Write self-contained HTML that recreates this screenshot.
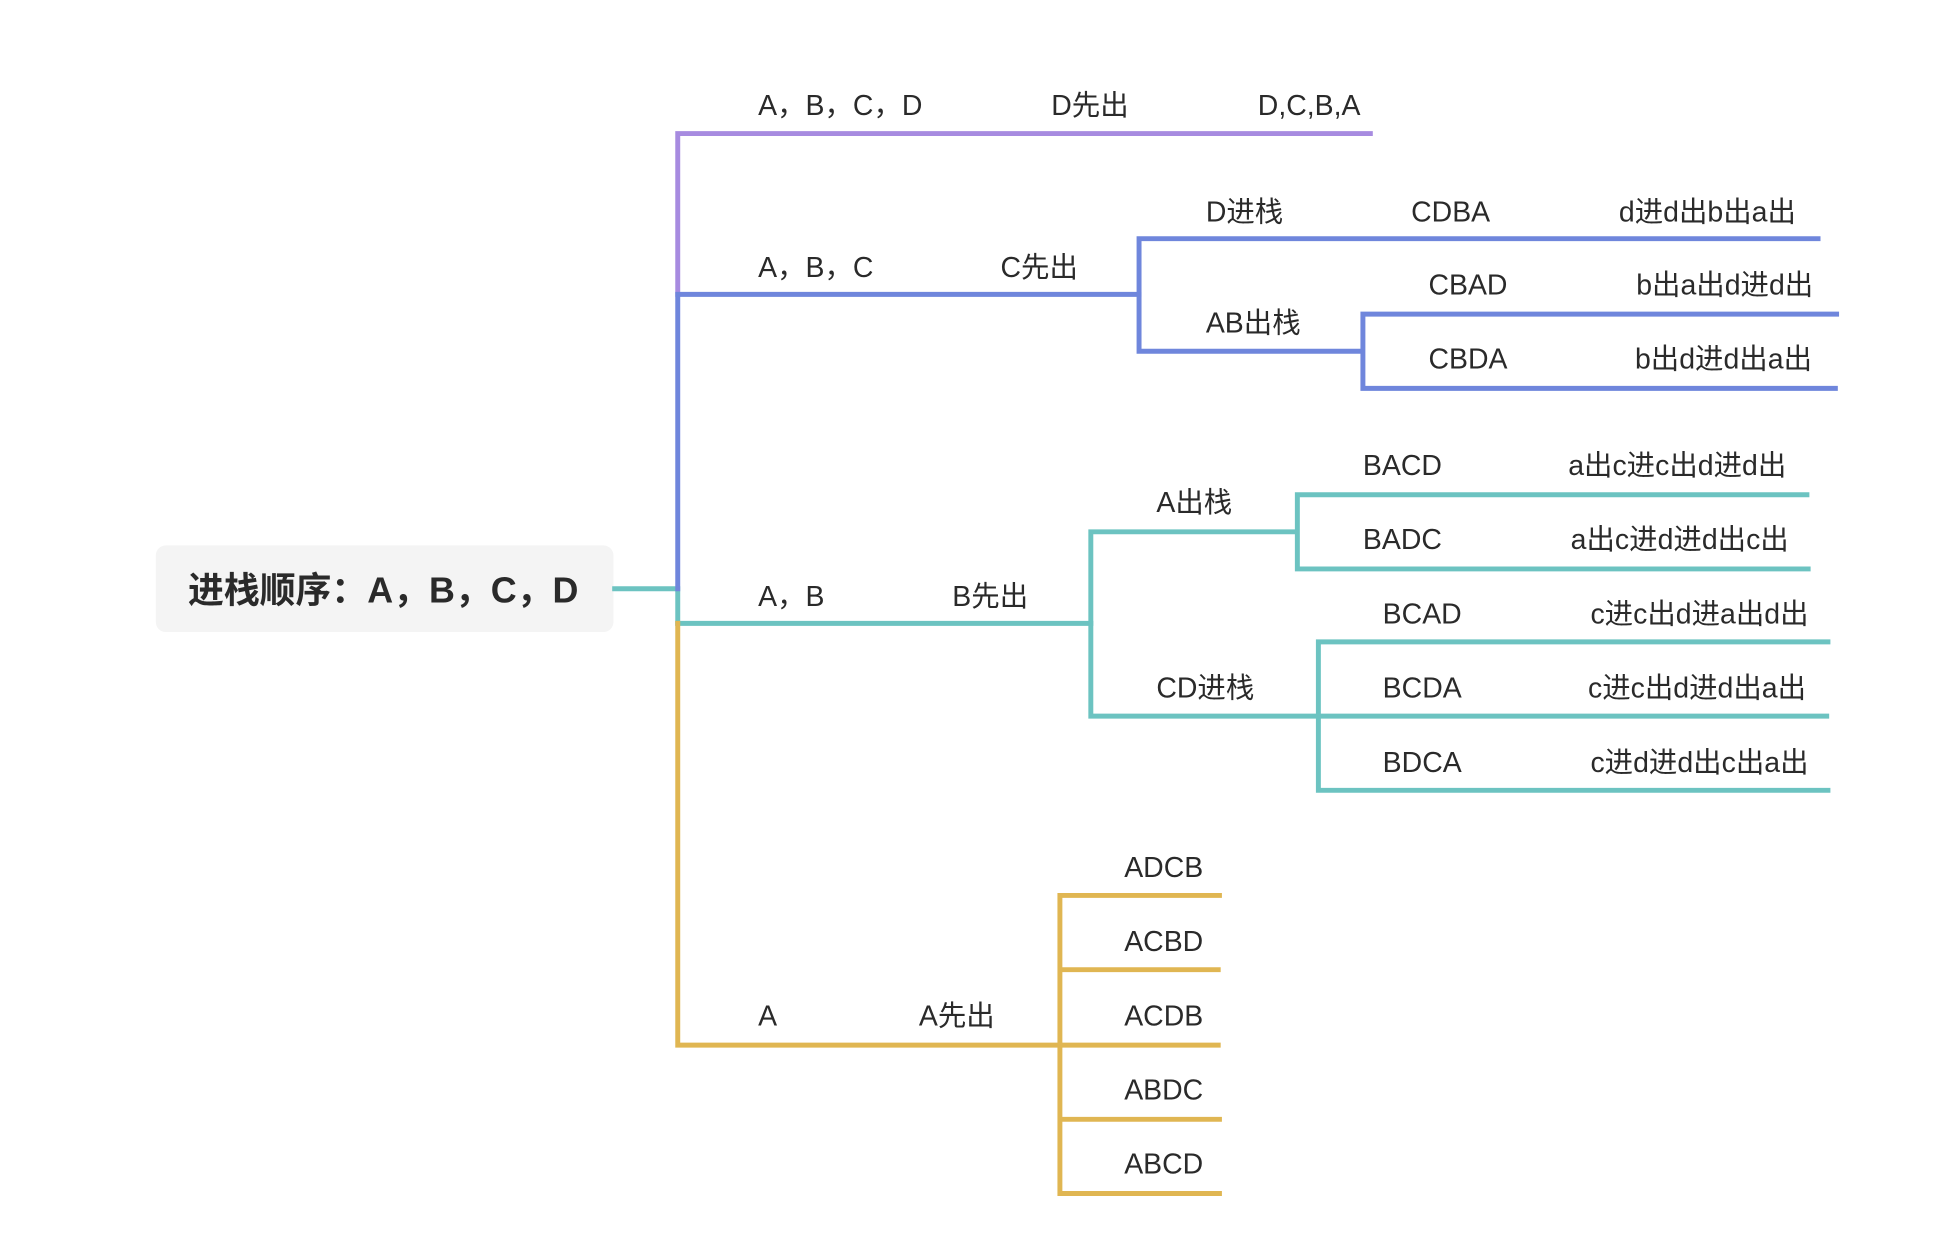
<!DOCTYPE html>
<html><head><meta charset="utf-8"><style>
html,body{margin:0;padding:0;background:#fff;}
svg{display:block}
text{font-family:"Liberation Sans","Noto Sans CJK SC",sans-serif;font-size:23px;fill:#2a2a2a;}
</style></head><body>
<svg width="1938" height="1243" viewBox="0 0 1567 1005" preserveAspectRatio="none" xmlns="http://www.w3.org/2000/svg">
<rect x="126" y="441" width="370" height="70" rx="8" fill="#f4f4f4"/>
<text x="152" y="487" style="font-size:29px;font-weight:bold">进栈顺序：A，B，C，D</text>
<g fill="none" stroke-width="4" stroke-linecap="square">
<path d="M497 476 H548 V504" stroke="#6cc3c1"/>
<path d="M548 238 V108 H1108" stroke="#a78be0"/>
<path d="M548 476 V238 H921" stroke="#6f86dc"/>
<path d="M548 504 H882" stroke="#6cc3c1"/>
<path d="M548 504 V845 H857" stroke="#e0b652"/>
<g stroke="#6f86dc">
<path d="M921 193 V284 M921 193 H1470 M921 284 H1102 M1102 254 V314 M1102 254 H1485 M1102 314 H1484"/>
</g>
<g stroke="#6cc3c1">
<path d="M882 430 V579 M882 430 H1049 M1049 400 V460 M1049 400 H1461 M1049 460 H1462 M882 579 H1477 M1066 519 V639 M1066 519 H1478 M1066 639 H1478"/>
</g>
<g stroke="#e0b652">
<path d="M857 724 V965 M857 724 H986 M857 784 H985 M857 845 H985 M857 905 H986 M857 965 H986"/>
</g>
</g>
<text x="613" y="93">A，B，C，D</text><text x="850" y="93">D先出</text><text x="1017" y="93">D,C,B,A</text>
<text x="613" y="224">A，B，C</text><text x="809" y="224">C先出</text>
<text x="975" y="179">D进栈</text><text x="1141" y="179">CDBA</text><text x="1309" y="179">d进d出b出a出</text>
<text x="975" y="269">AB出栈</text>
<text x="1155" y="238">CBAD</text><text x="1323" y="238">b出a出d进d出</text>
<text x="1155" y="298">CBDA</text><text x="1322" y="298">b出d进d出a出</text>
<text x="613" y="490">A，B</text><text x="770" y="490">B先出</text>
<text x="935" y="414">A出栈</text>
<text x="1102" y="384">BACD</text><text x="1268" y="384">a出c进c出d进d出</text>
<text x="1102" y="444">BADC</text><text x="1270" y="444">a出c进d进d出c出</text>
<text x="935" y="564">CD进栈</text>
<text x="1118" y="504">BCAD</text><text x="1286" y="504">c进c出d进a出d出</text>
<text x="1118" y="564">BCDA</text><text x="1284" y="564">c进c出d进d出a出</text>
<text x="1118" y="624">BDCA</text><text x="1286" y="624">c进d进d出c出a出</text>
<text x="613" y="829">A</text><text x="743" y="829">A先出</text>
<text x="909" y="709">ADCB</text><text x="909" y="769">ACBD</text><text x="909" y="829">ACDB</text><text x="909" y="889">ABDC</text><text x="909" y="949">ABCD</text>
</svg>
</body></html>
